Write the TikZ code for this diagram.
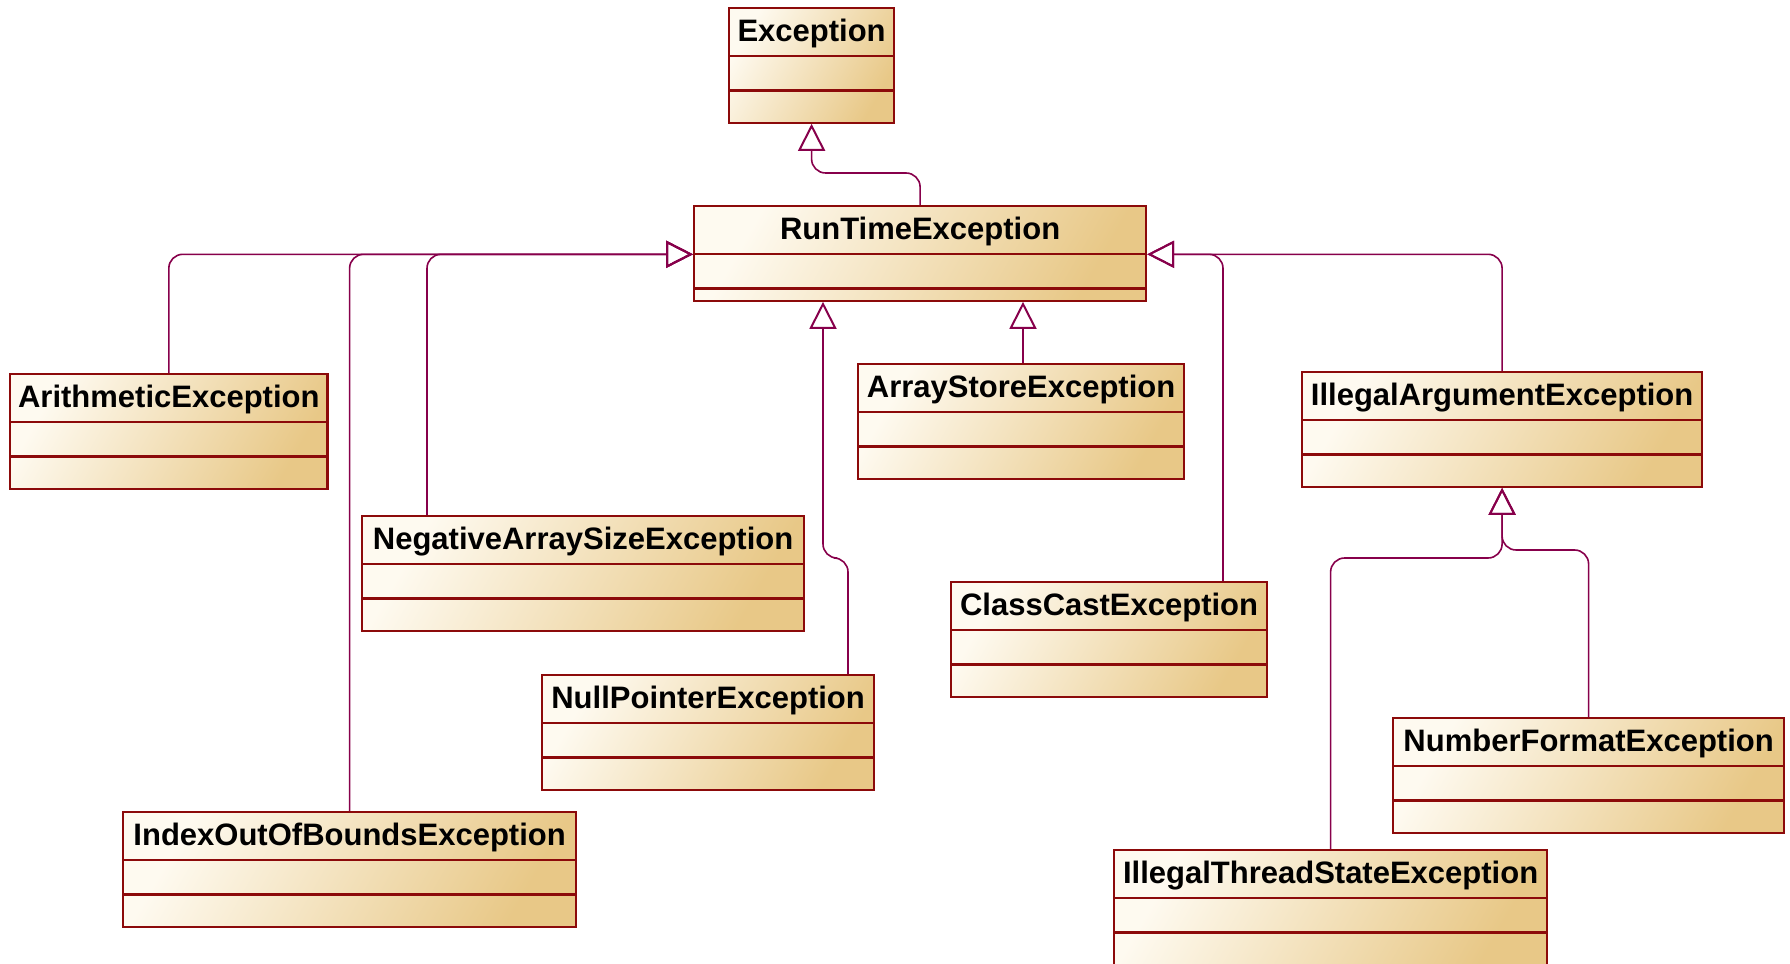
\documentclass[tikz,border=0pt]{standalone}
\usepackage{fontspec}
\setmainfont{Liberation Sans}
\usetikzlibrary{shapes.multipart, arrows.meta}
\definecolor{borde}{RGB}{140,10,10}
\definecolor{linea}{RGB}{135,0,75}
\definecolor{crema}{RGB}{254,250,240}
\definecolor{ocre}{RGB}{232,200,135}
\newcommand{\compart}[2][15pt]{\rule[-7pt]{0pt}{23pt}#2\nodepart{two}\rule{0pt}{16pt}\nodepart{three}\rule{0pt}{#1}}

\begin{document}
\begin{tikzpicture}[x=0.5pt, y=-0.5pt,
  clase/.style = {rectangle split, rectangle split parts=3,
    draw=borde, line width=1.1pt, anchor=north west,
    inner xsep=4pt, inner ysep=0pt,
    top color=crema, bottom color=ocre, shading angle=60,
    font=\bfseries\fontsize{15.5}{18}\selectfont},
  herencia/.style = {draw=linea, line width=0.8pt, rounded corners=7pt,
    -{Triangle[open, length=13.5pt, width=13.5pt, line width=1pt]}}]
  \useasboundingbox (0,0) rectangle (1790,964);

  \node[clase, minimum width=82.5pt] (exc) at (728,7) {\compart{Exception}};
  \node[clase, minimum width=226pt] (rte) at (693,205) {\compart[5pt]{RunTimeException}};
  \node[clase, minimum width=158pt] (arit) at (9,373) {\compart{ArithmeticException}};
  \node[clase, minimum width=221pt] (nas) at (361,515) {\compart{NegativeArraySizeException}};
  \node[clase, minimum width=166pt] (npe) at (541,674) {\compart{NullPointerException}};
  \node[clase, minimum width=226.5pt] (ioob) at (122,811) {\compart{IndexOutOfBoundsException}};
  \node[clase, minimum width=163pt] (ase) at (857,363) {\compart{ArrayStoreException}};
  \node[clase, minimum width=158pt] (cce) at (950,581) {\compart{ClassCastException}};
  \node[clase, minimum width=200pt] (iae) at (1301,371) {\compart{IllegalArgumentException}};
  \node[clase, minimum width=195.5pt] (nfe) at (1392,717) {\compart{NumberFormatException}};
  \node[clase, minimum width=216.5pt] (itse) at (1113,849) {\compart{IllegalThreadStateException}};

  \draw[herencia] (rte.north) -- ++(0,-32) -| (exc.south);
  \draw[herencia] (arit.north) |- (rte.one split west);
  \draw[herencia] (ioob.north) |- (rte.one split west);
  \draw[herencia] ([xshift=33pt]nas.north west) |- (rte.one split west);
  \draw[herencia] ([xshift=153.5pt]npe.north west) -- ++(0,-116) -| ([xshift=65pt]rte.south west);
  \draw[herencia] ([xshift=83pt]ase.north west) -- ([xshift=83pt]ase.north west |- rte.south);
  \draw[herencia] ([xshift=136.5pt]cce.north west) |- (rte.one split east);
  \draw[herencia] (iae.north) |- (rte.one split east);
  \draw[herencia] (itse.north) -- ++(0,-291) -| (iae.south);
  \draw[herencia] (nfe.north) -- ++(0,-167) -| (iae.south);
\end{tikzpicture}
\end{document}
